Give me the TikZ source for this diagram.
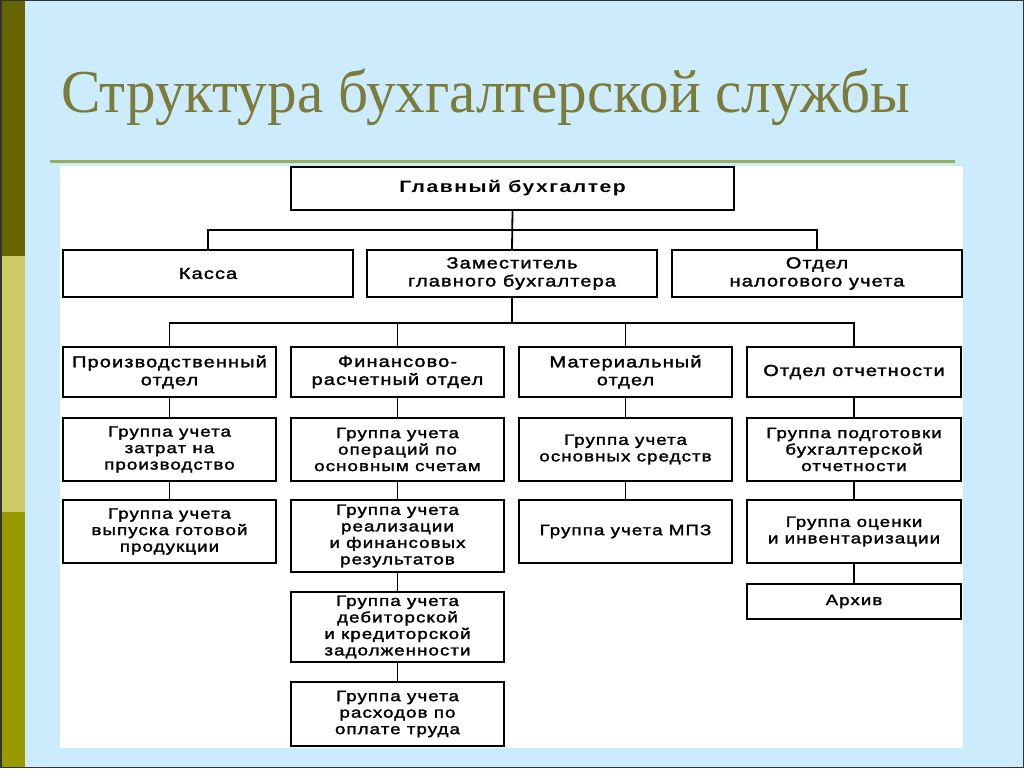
\documentclass[tikz,border=0pt]{standalone}
\usepackage{fontspec}
\newfontfamily\titlefont[FakeStretch=0.97]{Liberation Serif}
\newfontfamily\boxfont[FakeStretch=1.25,LetterSpace=7,FakeBold=1.8]{Liberation Sans}
\newfontfamily\headfont[FakeStretch=1.28,LetterSpace=9]{Liberation Sans Bold}
\definecolor{bgblue}{HTML}{CCEBFC}
\definecolor{stripA}{HTML}{666600}
\definecolor{stripB}{HTML}{CCCC66}
\definecolor{stripC}{HTML}{999900}
\definecolor{titlecol}{HTML}{7B7B3A}
\definecolor{rulecol}{HTML}{9CAD5A}
\newcommand{\boxtext}{\boxfont\fontsize{15}{16.5}\selectfont}
\newcommand{\boxtextL}{\boxfont\fontsize{16}{18}\selectfont}
\tikzset{
  orgbox/.style={draw=black, line width=1.8pt, fill=white, align=center,
    inner sep=0pt, outer sep=0pt, font=\boxtext},
  wide/.style={font=\boxtextL},
  conn/.style={draw=black, line width=1.8pt},
}
\begin{document}
\begin{tikzpicture}[x=1pt,y=-1pt]
\useasboundingbox (0,0) rectangle (1024,768);
% background
\fill[bgblue] (0,0) rectangle (1024,768);
\fill[stripA] (0,0) rectangle (25,256);
\fill[stripB] (0,256) rectangle (25,512);
\fill[stripC] (0,512) rectangle (25,768);
\draw[black!80, line width=1.5pt] (0.75,0.75) rectangle (1023.25,767.25);
% title
\node[anchor=base west, inner sep=0pt, text=titlecol, font=\titlefont\fontsize{61}{63}\selectfont] (title) at (61,112) {Структура бухгалтерской службы};
\draw[rulecol, line width=3pt] (50,161) -- (955,161);
% white panel
\fill[white] (60,166) rectangle (963,748);

% level 1
\node[orgbox, minimum width=443pt, minimum height=43pt, font=\headfont\fontsize{16.5}{18}\selectfont] (top) at (512.5,188.5) {Главный бухгалтер};
% level 2
\node[orgbox, wide, minimum width=290pt, minimum height=47pt] (kassa) at (208,273.5) {Касса};
\node[orgbox, wide, minimum width=290pt, minimum height=47pt] (zam) at (512,273.5) {Заместитель\\главного бухгалтера};
\node[orgbox, wide, minimum width=290pt, minimum height=47pt] (nalog) at (817,273.5) {Отдел\\налогового учета};
\coordinate (bus1) at (512,230);
\draw[conn] (kassa.north) |- (bus1) -| (nalog.north);
\draw[conn] (top.south) -- (zam.north);

% level 3
\node[orgbox, wide, minimum width=213pt, minimum height=50pt] (p1) at (169.5,372) {Производственный\\отдел};
\node[orgbox, wide, minimum width=213pt, minimum height=50pt] (p2) at (397.5,372) {Финансово-\\расчетный отдел};
\node[orgbox, wide, minimum width=213pt, minimum height=50pt] (p3) at (625.5,372) {Материальный\\отдел};
\node[orgbox, wide, minimum width=214pt, minimum height=50pt] (p4) at (854,372) {Отдел отчетности};
\coordinate (bus2) at (512,323);
\draw[conn] (zam.south) -- (bus2);
\draw[conn] (p1.north) |- (bus2) -| (p4.north);
\draw[conn] (p2.north) -- (p2.north |- bus2);
\draw[conn] (p3.north) -- (p3.north |- bus2);

% column 1
\node[orgbox, minimum width=213pt, minimum height=63pt] (g11) at (169.5,449.5) {Группа учета\\затрат на\\производство};
\node[orgbox, minimum width=213pt, minimum height=63pt] (g12) at (169.5,531.5) {Группа учета\\выпуска готовой\\продукции};
\draw[conn] (p1.south) -- (g11.north);
\draw[conn] (g11.south) -- (g12.north);

% column 2
\node[orgbox, minimum width=213pt, minimum height=63pt] (g21) at (397.5,449.5) {Группа учета\\операций по\\основным счетам};
\node[orgbox, minimum width=213pt, minimum height=72pt] (g22) at (397.5,536) {Группа учета\\реализации\\и финансовых\\результатов};
\node[orgbox, minimum width=213pt, minimum height=70pt] (g23) at (397.5,627) {Группа учета\\дебиторской\\и кредиторской\\задолженности};
\node[orgbox, minimum width=213pt, minimum height=64pt] (g24) at (397.5,714) {Группа учета\\расходов по\\оплате труда};
\draw[conn] (p2.south) -- (g21.north);
\draw[conn] (g21.south) -- (g22.north);
\draw[conn] (g22.south) -- (g23.north);
\draw[conn] (g23.south) -- (g24.north);

% column 3
\node[orgbox, minimum width=213pt, minimum height=63pt] (g31) at (625.5,449.5) {Группа учета\\основных средств};
\node[orgbox, minimum width=213pt, minimum height=63pt] (g32) at (625.5,531.5) {Группа учета МПЗ};
\draw[conn] (p3.south) -- (g31.north);
\draw[conn] (g31.south) -- (g32.north);

% column 4
\node[orgbox, minimum width=214pt, minimum height=63pt] (g41) at (854,449.5) {Группа подготовки\\бухгалтерской\\отчетности};
\node[orgbox, minimum width=214pt, minimum height=63pt] (g42) at (854,531.5) {Группа оценки\\и инвентаризации};
\node[orgbox, minimum width=214pt, minimum height=35pt] (g43) at (854,601.5) {Архив};
\draw[conn] (p4.south) -- (g41.north);
\draw[conn] (g41.south) -- (g42.north);
\draw[conn] (g42.south) -- (g43.north);
\end{tikzpicture}
\end{document}
